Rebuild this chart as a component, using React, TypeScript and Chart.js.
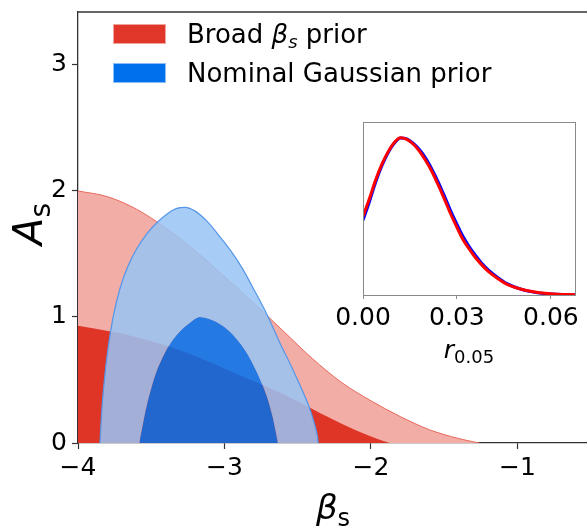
import React, { useEffect, useRef } from 'react';
import { Chart, registerables } from 'chart.js';

Chart.register(...registerables);

const FAMILY = "'DejaVu Sans', sans-serif";

// ---- main panel data (beta_s vs A_s contours) ----
const redOuterX = [-4, -3.8, -3.6, -3.4, -3.2, -3.0, -2.8, -2.6, -2.4, -2.2, -2.0, -1.8, -1.6, -1.4, -1.26];
const redOuterY = [2.0, 1.955, 1.855, 1.705, 1.525, 1.32, 1.11, 0.89, 0.67, 0.48, 0.335, 0.21, 0.105, 0.035, 0];

const redInnerX = [-4, -3.76, -3.6, -3.39, -3.2, -2.94, -2.7, -2.48, -2.3, -2.1, -1.95, -1.87];
const redInnerY = [0.93, 0.88, 0.84, 0.77, 0.69, 0.56, 0.44, 0.32, 0.21, 0.1, 0.03, 0];

const blueOuterX = [-3.85, -3.838, -3.82, -3.795, -3.76, -3.715, -3.66, -3.6, -3.53, -3.46, -3.39, -3.33, -3.27, -3.2, -3.12, -3.04, -2.96, -2.88, -2.8, -2.71, -2.62, -2.54, -2.47, -2.42, -2.385, -2.365, -2.36];
const blueOuterY = [0, 0.25, 0.5, 0.75, 1.0, 1.22, 1.4, 1.54, 1.66, 1.75, 1.82, 1.86, 1.87, 1.84, 1.76, 1.65, 1.53, 1.39, 1.22, 1.02, 0.79, 0.6, 0.42, 0.28, 0.15, 0.05, 0];

const blueInnerX = [-3.85, -3.58, -3.578, -3.565, -3.545, -3.515, -3.475, -3.43, -3.37, -3.3, -3.23, -3.17, -3.08, -3.0, -2.92, -2.85, -2.79, -2.74, -2.7, -2.67, -2.65, -2.638, -2.636, -2.36];
const blueInnerY = [0, 0, 0.02, 0.1, 0.22, 0.37, 0.53, 0.66, 0.79, 0.89, 0.96, 1.0, 0.975, 0.92, 0.83, 0.72, 0.59, 0.46, 0.33, 0.2, 0.09, 0.015, 0, 0];

const xTicks = [-4, -3, -2, -1];
const yTicks = [0, 1, 2, 3];

// ---- inset data (r_0.05 posterior) ----
const insetR = [0, 0.002, 0.004, 0.006, 0.008, 0.01, 0.012, 0.014, 0.016, 0.018, 0.02, 0.022, 0.024, 0.026, 0.028, 0.03, 0.032, 0.034, 0.036, 0.038, 0.04, 0.043, 0.046, 0.05, 0.054, 0.058, 0.062, 0.0677];
const insetRed = [0.5, 0.61, 0.73, 0.83, 0.91, 0.97, 1.0, 0.99, 0.96, 0.915, 0.855, 0.785, 0.7, 0.61, 0.515, 0.43, 0.35, 0.29, 0.235, 0.19, 0.15, 0.105, 0.068, 0.04, 0.022, 0.011, 0.005, 0.002];
const insetBlue = [0.475, 0.59, 0.715, 0.82, 0.905, 0.965, 0.998, 0.992, 0.965, 0.925, 0.87, 0.8, 0.72, 0.63, 0.535, 0.45, 0.37, 0.305, 0.25, 0.2, 0.16, 0.112, 0.072, 0.04, 0.02, 0.009, 0.004, 0.001];
const insetTicks = [0, 0.03, 0.06];

type Part = { t: string; italic?: boolean; sub?: boolean };

const legendRows: { fill: string; edge: string; parts: Part[] }[] = [
  { fill: '#e0372a', edge: '#f0a59c', parts: [{ t: 'Broad ' }, { t: 'β', italic: true }, { t: 's', italic: true, sub: true }, { t: ' prior' }] },
  { fill: '#0070ec', edge: '#8cbcf4', parts: [{ t: 'Nominal Gaussian prior' }] },
];
const xTitle: Part[] = [{ t: 'β', italic: true }, { t: 's', sub: true }];
const yTitle: Part[] = [{ t: 'A', italic: true }, { t: 's', sub: true }];
const insetTitle: Part[] = [{ t: 'r', italic: true }, { t: '0.05', sub: true }];

function pts(xs: number[], ys: number[]) {
  return xs.map((x, i) => ({ x, y: ys[i] }));
}

function drawRich(ctx: CanvasRenderingContext2D, parts: Part[], x: number, y: number, size: number, align: 'left' | 'center') {
  const fonts = parts.map((p) => `${p.italic ? 'italic ' : ''}${p.sub ? Math.round(size * 0.7) : size}px ${FAMILY}`);
  let total = 0;
  const widths = parts.map((p, i) => {
    ctx.font = fonts[i];
    const w = ctx.measureText(p.t).width;
    total += w;
    return w;
  });
  let cx = align === 'center' ? x - total / 2 : x;
  ctx.textBaseline = 'alphabetic';
  ctx.textAlign = 'left';
  parts.forEach((p, i) => {
    ctx.font = fonts[i];
    ctx.fillText(p.t, cx, y + (p.sub ? size * 0.2 : 0));
    cx += widths[i];
  });
}

const mainDecor = {
  id: 'mainDecor',
  afterDraw(chart: any) {
    const { ctx, chartArea: a } = chart;
    ctx.save();
    ctx.strokeStyle = '#333';
    ctx.lineWidth = 1.3;
    ctx.beginPath();
    ctx.moveTo(a.left, a.top);
    ctx.lineTo(a.right, a.top);
    ctx.stroke();

    // legend
    legendRows.forEach((row, i) => {
      const top = 24 + i * 39;
      ctx.fillStyle = row.fill;
      ctx.fillRect(113, top, 53, 20);
      ctx.strokeStyle = row.edge;
      ctx.lineWidth = 1;
      ctx.strokeRect(113.5, top + 0.5, 52, 19);
      ctx.fillStyle = '#000';
      drawRich(ctx, row.parts, 187, top + 19, 26, 'left');
    });

    // axis titles
    ctx.fillStyle = '#000';
    drawRich(ctx, xTitle, 333, 519, 34, 'center');
    ctx.save();
    ctx.translate(42, 224);
    ctx.rotate(-Math.PI / 2);
    drawRich(ctx, yTitle, 0, 0, 40, 'center');
    ctx.restore();
    ctx.restore();
  },
};

const insetDecor = {
  id: 'insetDecor',
  afterDraw(chart: any) {
    const { ctx, chartArea: a } = chart;
    ctx.save();
    ctx.strokeStyle = '#8a8a8a';
    ctx.lineWidth = 1;
    ctx.strokeRect(Math.round(a.left) + 0.5, Math.round(a.top) + 0.5, Math.round(a.right - a.left), Math.round(a.bottom - a.top));
    ctx.fillStyle = '#000';
    drawRich(ctx, insetTitle, (a.left + a.right) / 2, 248, 25, 'center');
    ctx.restore();
  },
};

export default function App() {
  const mainRef = useRef<HTMLCanvasElement>(null);
  const insetRef = useRef<HTMLCanvasElement>(null);

  useEffect(() => {
    const tickFont = { family: FAMILY, size: 25 };
    const main = new Chart(mainRef.current as HTMLCanvasElement, {
      type: 'line',
      data: {
        datasets: [
          { label: 'Broad outer', data: pts(redOuterX, redOuterY), fill: 'origin', backgroundColor: '#f2ada6', borderColor: '#e8695c', borderWidth: 1, order: 4, cubicInterpolationMode: 'monotone' },
          { label: 'Broad inner', data: pts(redInnerX, redInnerY), fill: 'origin', backgroundColor: '#de3526', borderColor: 'rgba(0,0,0,0)', borderWidth: 0, order: 3, cubicInterpolationMode: 'monotone' },
          { label: 'Nominal inner', data: pts(blueInnerX, blueInnerY), fill: 'origin', backgroundColor: 'rgba(0,112,236,0.85)', borderColor: 'rgba(0,0,0,0)', borderWidth: 0, order: 2, cubicInterpolationMode: 'monotone' },
          { label: 'Nominal outer', data: pts(blueOuterX, blueOuterY), fill: 2, backgroundColor: 'rgba(153,196,243,0.86)', borderColor: 'rgba(85,150,232,1)', borderWidth: 1.2, order: 1, cubicInterpolationMode: 'monotone' },
        ] as any,
      },
      options: {
        animation: false,
        responsive: false,
        elements: { point: { radius: 0 } },
        layout: { padding: { top: 12, right: 0, left: 0, bottom: 0 } },
        plugins: { legend: { display: false }, tooltip: { enabled: false } },
        scales: {
          x: {
            type: 'linear',
            min: -4,
            max: -0.525,
            afterBuildTicks: (s: any) => { s.ticks = xTicks.map((v) => ({ value: v })); },
            afterFit: (s: any) => { s.height = 84; s.paddingLeft = 0; s.paddingRight = 0; },
            ticks: { font: tickFont, color: '#000', padding: 4, callback: (v: any) => (Number(v) < 0 ? '\u2212' + Math.abs(Number(v)) : String(v)) },
            grid: { drawOnChartArea: false, drawTicks: true, tickLength: 6, color: '#333', tickWidth: 1.2 },
            border: { display: true, color: '#333', width: 1.3 },
          },
          y: {
            type: 'linear',
            min: 0,
            max: 3.42,
            afterBuildTicks: (s: any) => { s.ticks = yTicks.map((v) => ({ value: v })); },
            afterFit: (s: any) => { s.width = 78; s.paddingTop = 0; s.paddingBottom = 0; },
            ticks: { font: tickFont, color: '#000', padding: 5, callback: (v: any) => String(v) },
            grid: { drawOnChartArea: false, drawTicks: true, tickLength: 6, color: '#333', tickWidth: 1.2 },
            border: { display: true, color: '#333', width: 1.3 },
          },
        },
      } as any,
      plugins: [mainDecor],
    });

    const inset = new Chart(insetRef.current as HTMLCanvasElement, {
      type: 'line',
      data: {
        datasets: [
          { label: 'Nominal', data: pts(insetR, insetBlue), borderColor: '#0000ff', borderWidth: 3, fill: false, order: 2, cubicInterpolationMode: 'monotone' },
          { label: 'Broad', data: pts(insetR, insetRed), borderColor: '#ff0000', borderWidth: 3, fill: false, order: 1, cubicInterpolationMode: 'monotone' },
        ] as any,
      },
      options: {
        animation: false,
        responsive: false,
        elements: { point: { radius: 0 } },
        layout: { padding: { top: 12, right: 12, left: 0, bottom: 0 } },
        plugins: { legend: { display: false }, tooltip: { enabled: false } },
        scales: {
          x: {
            type: 'linear',
            min: 0,
            max: 0.0677,
            afterBuildTicks: (s: any) => { s.ticks = insetTicks.map((v) => ({ value: v })); },
            afterFit: (s: any) => { s.height = 85; s.paddingLeft = 0; s.paddingRight = 0; },
            ticks: { font: tickFont, color: '#000', padding: 4, callback: (v: any) => Number(v).toFixed(2) },
            grid: { drawOnChartArea: false, drawTicks: true, tickLength: 4, color: '#8a8a8a', tickWidth: 1 },
            border: { display: false },
          },
          y: {
            type: 'linear',
            min: 0,
            max: 1.1,
            afterFit: (s: any) => { s.width = 43; s.paddingTop = 0; s.paddingBottom = 0; },
            ticks: { display: false },
            grid: { display: false },
            border: { display: false },
          },
        },
      } as any,
      plugins: [insetDecor],
    });

    return () => {
      main.destroy();
      inset.destroy();
    };
  }, []);

  return (
    <div style={{ position: 'absolute', left: 0, top: 0, width: 587, height: 527, background: '#fff', overflow: 'hidden' }}>
      <canvas ref={mainRef} width={587} height={527} style={{ position: 'absolute', left: 0, top: 0, width: 587, height: 527 }} />
      <canvas ref={insetRef} width={267} height={270} style={{ position: 'absolute', left: 320, top: 110, width: 267, height: 270 }} />
    </div>
  );
}
